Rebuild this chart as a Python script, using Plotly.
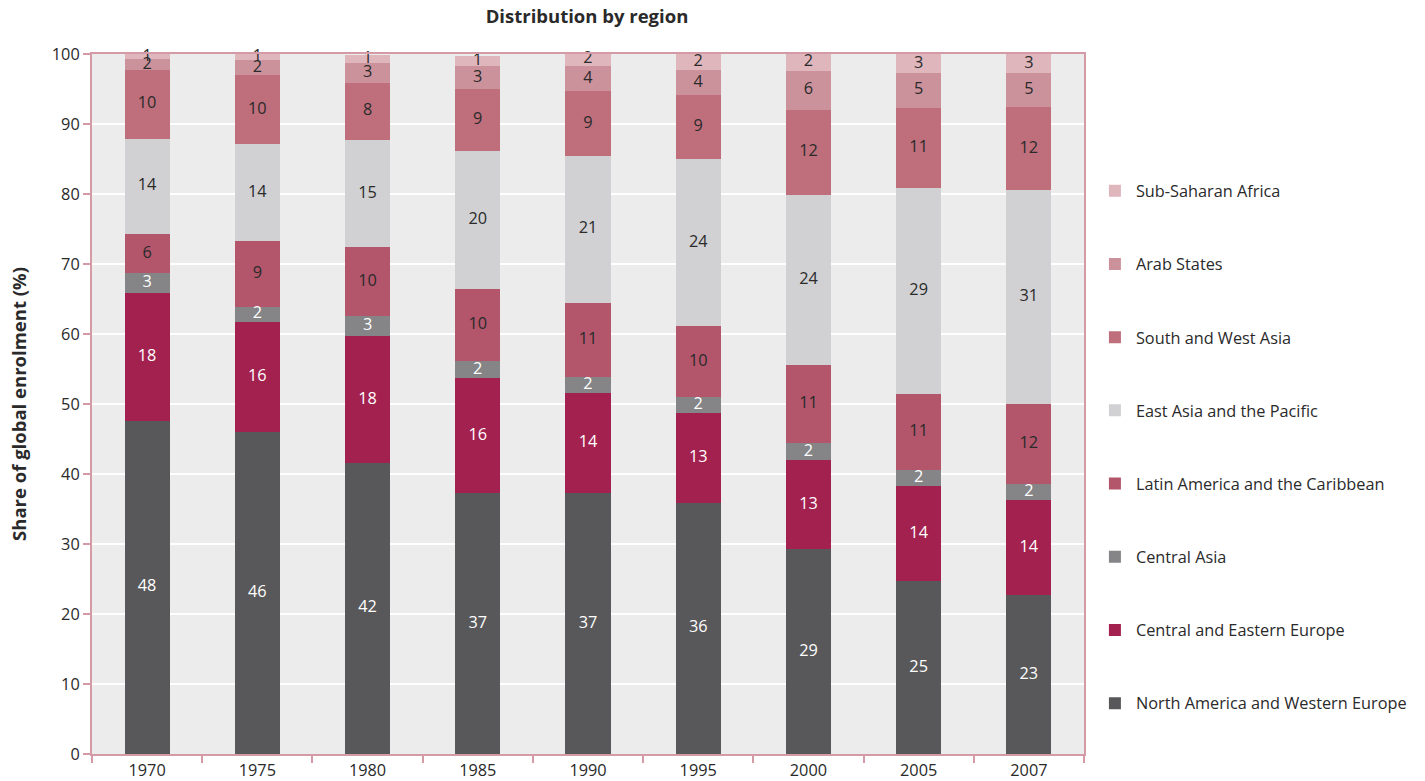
import plotly.graph_objects as go

years = ["1970", "1975", "1980", "1985", "1990", "1995", "2000", "2005", "2007"]

regions = [
    "North America and Western Europe",
    "Central and Eastern Europe",
    "Central Asia",
    "Latin America and the Caribbean",
    "East Asia and the Pacific",
    "South and West Asia",
    "Arab States",
    "Sub-Saharan Africa",
]

na_we = [47.6, 46.0, 41.6, 37.3, 37.3, 35.9, 29.3, 24.7, 22.7]
cee = [18.3, 15.7, 18.1, 16.4, 14.3, 12.8, 12.7, 13.6, 13.6]
ca = [2.8, 2.2, 2.9, 2.4, 2.3, 2.3, 2.4, 2.3, 2.3]
lac = [5.6, 9.4, 9.8, 10.3, 10.6, 10.1, 11.2, 10.9, 11.4]
eap = [13.6, 13.8, 15.3, 19.7, 20.9, 23.9, 24.3, 29.4, 30.6]
swa = [9.8, 9.9, 8.2, 8.9, 9.3, 9.1, 12.1, 11.4, 11.8]
arab = [1.6, 2.1, 2.8, 3.3, 3.6, 3.6, 5.6, 5.0, 4.9]
ssa = [0.7, 0.9, 1.1, 1.4, 1.9, 2.3, 2.4, 2.7, 2.7]

lbl_na_we = [48, 46, 42, 37, 37, 36, 29, 25, 23]
lbl_cee = [18, 16, 18, 16, 14, 13, 13, 14, 14]
lbl_ca = [3, 2, 3, 2, 2, 2, 2, 2, 2]
lbl_lac = [6, 9, 10, 10, 11, 10, 11, 11, 12]
lbl_eap = [14, 14, 15, 20, 21, 24, 24, 29, 31]
lbl_swa = [10, 10, 8, 9, 9, 9, 12, 11, 12]
lbl_arab = [2, 2, 3, 3, 4, 4, 6, 5, 5]
lbl_ssa = [1, 1, 1, 1, 2, 2, 2, 3, 3]

values = [na_we, cee, ca, lac, eap, swa, arab, ssa]
labels = [lbl_na_we, lbl_cee, lbl_ca, lbl_lac, lbl_eap, lbl_swa, lbl_arab, lbl_ssa]
colors = ["#58585a", "#a3214f", "#858587", "#b3566b", "#d1d1d3", "#bf6f7c", "#cc929c", "#e0b6bd"]
text_colors = ["#ffffff", "#ffffff", "#ffffff", "#2a2a2a", "#2a2a2a", "#2a2a2a", "#2a2a2a", "#2a2a2a"]

FONT = "Open Sans"
fig = go.Figure()
n = len(regions)
for i, (name, v, c) in enumerate(zip(regions, values, colors)):
    fig.add_trace(go.Bar(
        x=years, y=v, name=name, legendgroup=name, legendrank=n - i,
        marker=dict(color=c, line=dict(width=0)),
        hoverinfo="x+y+name",
    ))

# segment labels, centred on each stacked segment (midpoints computed from the data)
base = [0.0] * len(years)
for name, v, l, tc in zip(regions, values, labels, text_colors):
    mids = [b + val / 2 for b, val in zip(base, v)]
    fig.add_trace(go.Scatter(
        x=years, y=mids, mode="text", text=[str(t) for t in l],
        textposition="middle center", cliponaxis=False,
        textfont=dict(color=tc, size=16.3, family=FONT),
        showlegend=False, hoverinfo="skip",
    ))
    base = [b + val for b, val in zip(base, v)]

axis_col = "#d49aa5"
fig.update_layout(
    barmode="stack",
    bargap=0.59,
    width=1425, height=781,
    margin=dict(l=92, r=341, t=54, b=27, autoexpand=False),
    paper_bgcolor="white",
    plot_bgcolor="#ececec",
    font=dict(family=FONT, size=16.3, color="#2a2a2a"),
    title=dict(text="<b>Distribution by region</b>", x=587 / 1425, xanchor="center",
               y=1 - 17 / 781, yanchor="middle", font=dict(size=18.5, family=FONT, color="#2a2a2a")),
    legend=dict(x=1.010, xanchor="left", y=0.829, yanchor="top",
                traceorder="grouped", tracegroupgap=49, itemwidth=32,
                font=dict(size=16.3, family=FONT, color="#2a2a2a"),
                bgcolor="rgba(0,0,0,0)"),
    showlegend=True,
)
fig.update_yaxes(
    range=[0, 100], dtick=10, showgrid=True, gridcolor="white", gridwidth=2,
    showline=True, linecolor=axis_col, linewidth=2, mirror=True,
    ticks="outside", ticklen=7, tickcolor=axis_col, tickwidth=2,
    zeroline=False, automargin=False,
    title=dict(text="<b>Share of global enrolment (%)</b>", font=dict(size=18.5, family=FONT), standoff=20),
    tickfont=dict(size=16.3),
)
fig.update_xaxes(
    showline=True, linecolor=axis_col, linewidth=2, mirror=True,
    ticks="outside", tickson="boundaries", ticklen=7, tickcolor=axis_col, tickwidth=2,
    showgrid=False, tickfont=dict(size=16.3), automargin=False,
)

fig.write_html("out.html", config={"displayModeBar": False},
               post_script="document.body.style.margin='0';")
